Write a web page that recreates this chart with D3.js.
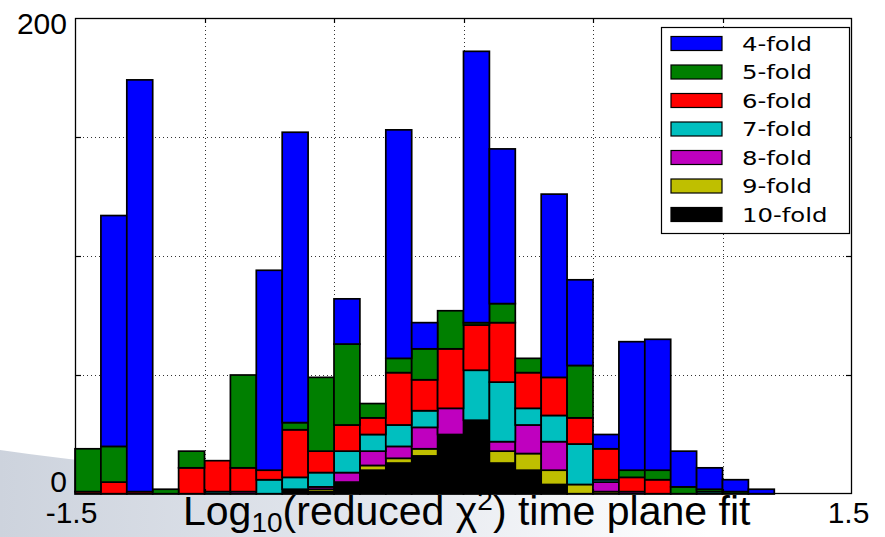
<!DOCTYPE html>
<html>
<head>
<meta charset="utf-8">
<script src="https://cdn.jsdelivr.net/npm/d3@7/dist/d3.min.js"></script>
<style>
  html, body { margin: 0; padding: 0; background: #ffffff; }
  svg { display: block; }
</style>
</head>
<body>
<svg id="chart" width="885" height="537"></svg>
<script>
// Histogram of log10(reduced chi^2) for the time-plane fit, split by fold multiplicity.
// 30 bins of width 0.1 from -1.5 to 1.5; counts per bin for each fold class.
const seriesNames = ["4-fold", "5-fold", "6-fold", "7-fold", "8-fold", "9-fold", "10-fold"];
const seriesColors = ["#0000ff", "#007f00", "#ff0000", "#00bfbf", "#bf00bf", "#bfbf00", "#000000"];

const fold4  = [0, 97, 173, 0, 0, 0, 0, 84, 122, 0, 19, 0, 96, 11, 0, 114, 65, 0, 77, 36, 6, 54, 55, 15, 9, 5, 2, 0, 0, 0];
const fold5  = [18, 15, 0, 2, 7, 0, 39, 0, 3, 31, 34, 6, 6, 13, 16, 1, 8, 6, 0, 22, 0, 3, 4, 3, 1, 1, 0, 0, 0, 0];
const fold6  = [1, 5, 1, 0, 11, 13, 10, 4, 20, 9, 11, 7, 22, 13, 25, 19, 25, 15, 16, 11, 13, 6, 6, 0, 0, 0, 0, 0, 0, 0];
const fold7  = [0, 0, 0, 0, 0, 1, 0, 6, 5, 6, 9, 7, 9, 7, 0, 21, 25, 7, 11, 17, 1, 0, 0, 0, 1, 0, 0, 0, 0, 0];
const fold8  = [0, 0, 0, 0, 0, 0, 1, 0, 0, 1, 4, 6, 5, 9, 11, 0, 4, 12, 12, 0, 4, 1, 0, 0, 0, 0, 0, 0, 0, 0];
const fold9  = [0, 0, 0, 0, 0, 0, 0, 0, 0, 1, 0, 2, 2, 3, 0, 0, 5, 7, 6, 4, 1, 0, 0, 0, 0, 0, 0, 0, 0, 0];
const fold10 = [0, 0, 0, 0, 0, 0, 0, 0, 2, 1, 5, 10, 13, 16, 25, 31, 13, 10, 4, 0, 0, 0, 0, 0, 0, 0, 0, 0, 0, 0];

const seriesValues = [fold4, fold5, fold6, fold7, fold8, fold9, fold10];

const xDomain = [-1.5, 1.5];
const binWidth = 0.1;
const binStarts = fold4.map((_, i) => xDomain[0] + i * binWidth);
const xTickLabels = [-1.5, 1.5];
const yTickLabels = [0, 200];
const xGrid = [-1, -0.5, 0, 0.5, 1];
const yGrid = [50, 100, 150];

const svg = d3.select("#chart");
const W = 885, H = 537;
const plot = { left: 75, right: 852, top: 18, bottom: 494 };

const x = d3.scaleLinear().domain(xDomain).range([plot.left, plot.right]);
const y = d3.scaleLinear().domain([0, 200]).range([plot.bottom, plot.top]);

// soft slide backdrop along the lower edge
const defs = svg.append("defs");
const grad = defs.append("linearGradient").attr("id", "backdrop")
  .attr("x1", "0").attr("y1", "0").attr("x2", "1").attr("y2", "0");
grad.append("stop").attr("offset", "0").attr("stop-color", "#cdd3dd");
grad.append("stop").attr("offset", "0.4").attr("stop-color", "#e2e6ed");
grad.append("stop").attr("offset", "0.8").attr("stop-color", "#ffffff");
svg.append("path")
  .attr("d", `M0,450 C220,482 520,494 885,500 L885,${H} L0,${H} Z`)
  .attr("fill", "url(#backdrop)");

// plot background
svg.append("rect")
  .attr("x", plot.left).attr("y", plot.top)
  .attr("width", plot.right - plot.left).attr("height", plot.bottom - plot.top)
  .attr("fill", "#ffffff");

// dotted grid
const gridG = svg.append("g")
  .attr("stroke", "#000").attr("stroke-width", 1)
  .attr("stroke-dasharray", "1,3").attr("opacity", 0.8);
gridG.selectAll("line.vx").data(xGrid).join("line")
  .attr("x1", d => Math.round(x(d)) + 0.5).attr("x2", d => Math.round(x(d)) + 0.5)
  .attr("y1", plot.top).attr("y2", plot.bottom);
gridG.selectAll("line.hy").data(yGrid).join("line")
  .attr("y1", d => Math.round(y(d)) + 0.5).attr("y2", d => Math.round(y(d)) + 0.5)
  .attr("x1", plot.left).attr("x2", plot.right);

// stacked bars: 10-fold at the bottom, 4-fold on top
const order = d3.range(seriesValues.length).reverse();
const rows = binStarts.map((b, i) => {
  const r = { x0: b };
  seriesNames.forEach((n, k) => { r[n] = seriesValues[k][i]; });
  return r;
});
const stack = d3.stack().keys(order.map(k => seriesNames[k]));
const layers = stack(rows);

const barsG = svg.append("g");
layers.forEach(layer => {
  const k = seriesNames.indexOf(layer.key);
  barsG.append("g")
    .attr("fill", seriesColors[k])
    .attr("stroke", "#000").attr("stroke-width", 1.7)
    .selectAll("rect")
    .data(layer.filter(d => d[1] - d[0] > 0))
    .join("rect")
    .attr("x", d => x(d.data.x0))
    .attr("width", d => x(d.data.x0 + binWidth) - x(d.data.x0))
    .attr("y", d => y(d[1]))
    .attr("height", d => y(d[0]) - y(d[1]));
});

// frame and inward ticks
svg.append("rect")
  .attr("x", plot.left + 0.5).attr("y", plot.top + 0.5)
  .attr("width", plot.right - plot.left - 1).attr("height", plot.bottom - plot.top - 1)
  .attr("fill", "none").attr("stroke", "#000").attr("stroke-width", 1.3);

const tickG = svg.append("g").attr("stroke", "#000").attr("stroke-width", 1.2);
xGrid.forEach(v => {
  const px = Math.round(x(v)) + 0.5;
  tickG.append("line").attr("x1", px).attr("x2", px).attr("y1", plot.top).attr("y2", plot.top + 5);
  tickG.append("line").attr("x1", px).attr("x2", px).attr("y1", plot.bottom).attr("y2", plot.bottom - 5);
});
yGrid.forEach(v => {
  const py = Math.round(y(v)) + 0.5;
  tickG.append("line").attr("x1", plot.left).attr("x2", plot.left + 6).attr("y1", py).attr("y2", py);
  tickG.append("line").attr("x1", plot.right).attr("x2", plot.right - 6).attr("y1", py).attr("y2", py);
});

// axis labels
const yAxis = d3.axisLeft(y).tickValues(yTickLabels).tickSize(0).tickPadding(8);
const yAxisG = svg.append("g").attr("transform", `translate(${plot.left},0)`).call(yAxis);
yAxisG.select(".domain").remove();
yAxisG.selectAll("text")
  .attr("font-family", "'Liberation Sans', Arial, sans-serif")
  .attr("font-size", 30).attr("fill", "#000")
  .attr("dy", d => d === 200 ? "0.52em" : "-0.1em");

const xAxis = d3.axisBottom(x).tickValues(xTickLabels).tickSize(0).tickPadding(0)
  .tickFormat(d3.format(".1f"));
const xAxisG = svg.append("g").attr("transform", `translate(0,${plot.bottom})`).call(xAxis);
xAxisG.select(".domain").remove();
xAxisG.selectAll("text")
  .attr("font-family", "'Liberation Sans', Arial, sans-serif")
  .attr("font-size", 30).attr("fill", "#000")
  .attr("y", 29).attr("dy", 0).attr("dx", -4)
  .text(d => d < 0 ? "-" + Math.abs(d).toFixed(1) : d.toFixed(1));

// x axis title
const title = svg.append("text")
  .attr("x", 183).attr("y", 525)
  .attr("font-family", "'Liberation Sans', Arial, sans-serif")
  .attr("font-size", 41).attr("fill", "#000");
title.append("tspan").text("Log");
title.append("tspan").attr("font-size", 28).attr("dy", 7).text("10");
title.append("tspan").attr("dy", -7).text("(reduced χ");
title.append("tspan").attr("font-size", 28).attr("dy", -15).text("2");
title.append("tspan").attr("dy", 15).text(") time plane fit");

// legend
const leg = svg.append("g");
leg.append("rect")
  .attr("x", 661.5).attr("y", 27.5).attr("width", 188).attr("height", 206)
  .attr("fill", "#fff").attr("stroke", "#000").attr("stroke-width", 1.2);
const legItems = leg.selectAll("g.item").data(seriesNames).join("g")
  .attr("transform", (d, i) => `translate(0,${43.5 + i * 28.5})`);
legItems.append("rect")
  .attr("x", 671).attr("y", -7).attr("width", 51).attr("height", 14)
  .attr("fill", (d, i) => seriesColors[i]).attr("stroke", "#000").attr("stroke-width", 1.2);
legItems.append("text")
  .attr("transform", "translate(742,7) scale(1.25,1)")
  .attr("font-family", "'DejaVu Sans', sans-serif")
  .attr("font-size", 19.5).attr("fill", "#000")
  .text(d => d);
</script>
</body>
</html>
